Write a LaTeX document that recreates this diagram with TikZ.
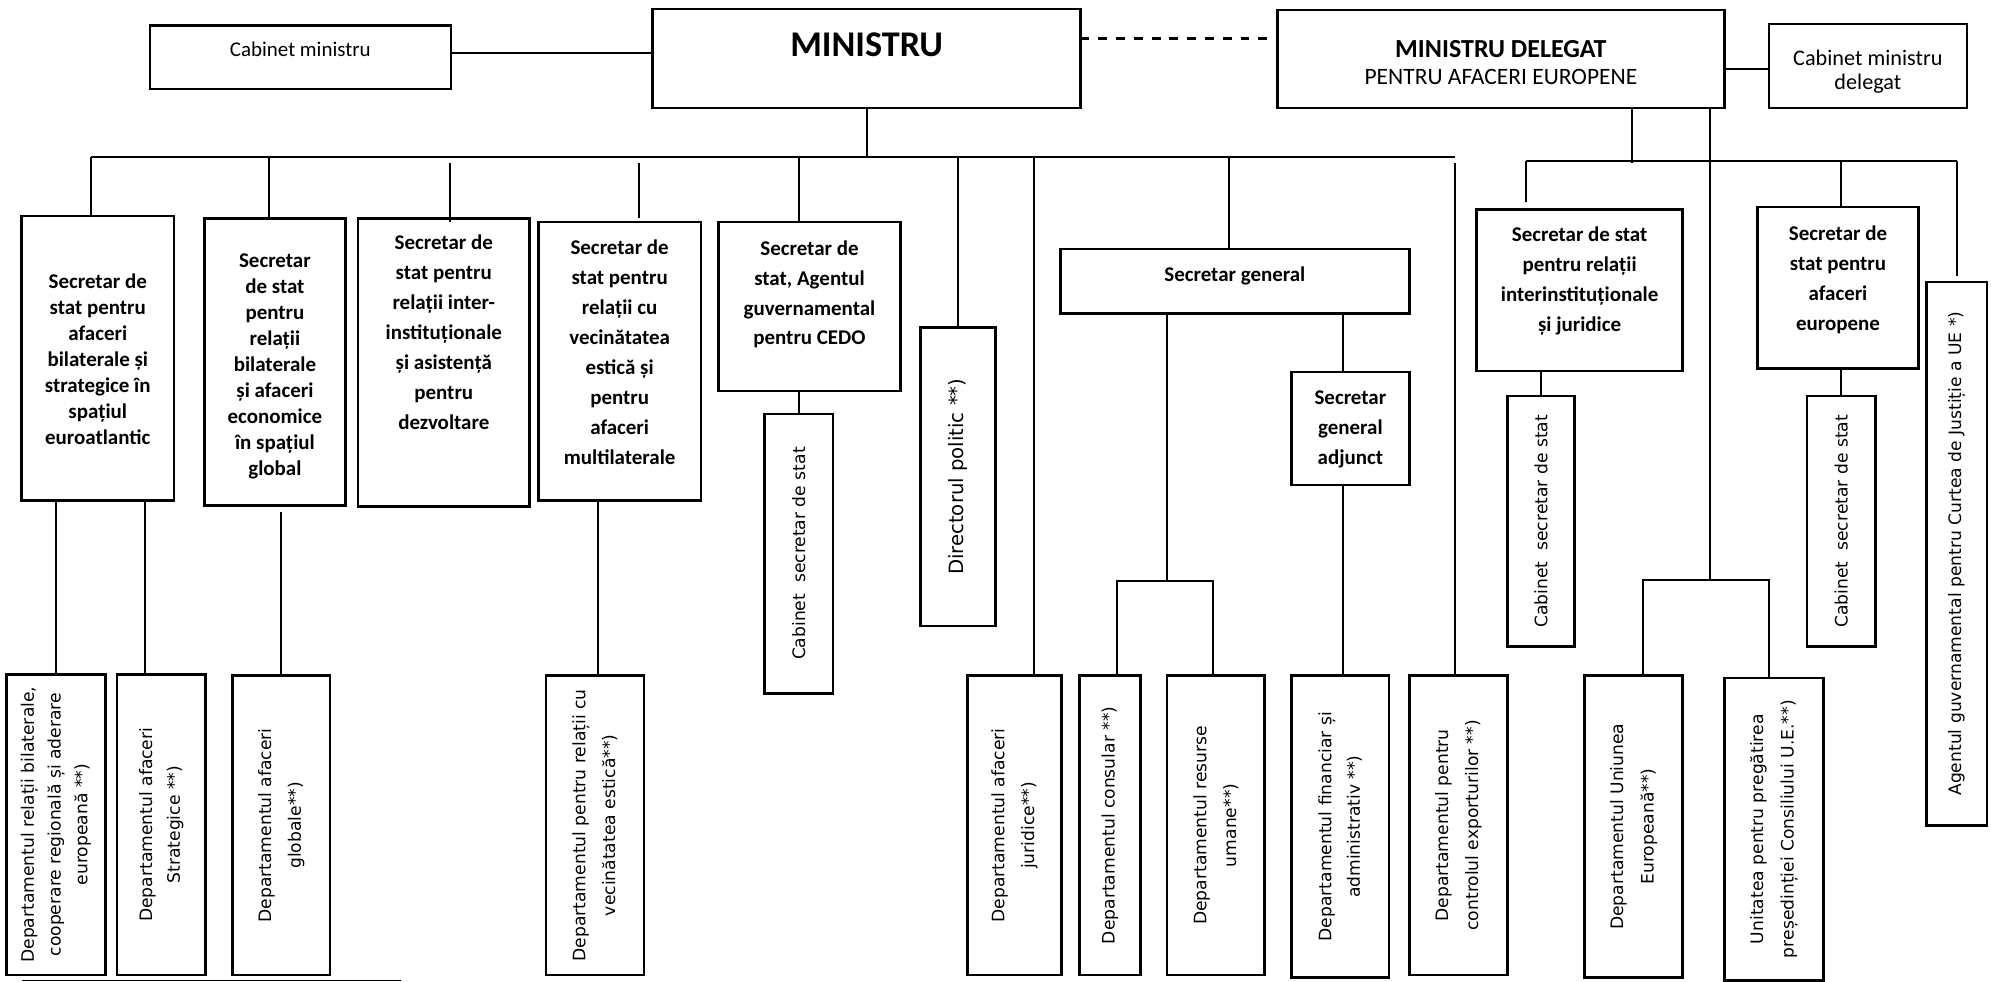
\documentclass[tikz,border=0pt]{standalone}
\usepackage{fontspec}
\usepackage{graphicx}
\setmainfont{Carlito}
\newfontfamily\dvs{DejaVu Sans}
\usetikzlibrary{calc}
% horizontal text box: width, height, first baseline from top, font, text
\newcommand{\tbx}[5]{\parbox[c][#2pt][t]{#1pt}{\vspace*{\dimexpr #3pt-20pt\relax}\centering #4\rule{0pt}{20pt}#5\par}}
% rotated text box: horizontal width, vertical height, font size, baselineskip, text
\newcommand{\rbx}[5]{\rotatebox{90}{\parbox[c][#1pt][c]{#2pt}{\centering\dvs\fontsize{#3}{#4}\selectfont #5\par}}}
\newcommand{\bfs}[1]{\fontsize{16.5}{#1}\selectfont\bfseries}
\begin{document}
\begin{tikzpicture}[x=1pt,y=-1pt,
  bx/.style={draw,line width=2pt,inner sep=0pt,outer sep=0pt,fill=white,anchor=north west},
  cn/.style={line width=1.5pt}]
\fill[white] (0,0) rectangle (1568,773);
\path[use as bounding box] (0,0) rectangle (1568,773);

% ---------- top row ----------
\node[bx] (CM) at (118,20) {\tbx{237}{50}{24.8}{\fontsize{16.5}{20}\selectfont}{Cabinet ministru}};
\node[bx] (MIN) at (514,7) {\tbx{337}{78}{37.6}{\fontsize{28.5}{30}\selectfont\bfseries}{MINISTRU}};
\node[bx] (DEL) at (1006,8) {\tbx{352}{77}{37.6}{\fontsize{18.5}{21.3}\selectfont}{{\bfseries\fontsize{20.5}{21.3}\selectfont MINISTRU DELEGAT}\\PENTRU AFACERI EUROPENE}};
\node[bx] (CMD) at (1393,19) {\tbx{156}{66}{32.6}{\fontsize{17.5}{19}\selectfont}{Cabinet ministru\\delegat}};

% ---------- secretaries ----------
\node[bx] (A) at (17,170) {\tbx{120}{224}{57.3}{\bfs{20.5}}{Secretar de\\stat pentru\\afaceri\\bilaterale și\\strategice în\\spațiul\\euroatlantic}};
\node[bx] (B) at (161,172) {\tbx{111}{226}{38.3}{\bfs{20.5}}{Secretar\\de stat\\pentru\\relații\\bilaterale\\și afaceri\\economice\\în spațiul\\global}};
\node[bx] (C) at (282,172) {\tbx{135}{227}{24.3}{\bfs{23.6}}{Secretar de\\stat pentru\\relații inter-\\instituționale\\și asistență\\pentru\\dezvoltare}};
\node[bx] (D) at (424,175) {\tbx{128}{219}{25.3}{\bfs{23.6}}{Secretar de\\stat pentru\\relații cu\\vecinătatea\\estică și\\pentru\\afaceri\\multilaterale}};
\node[bx] (E) at (566,175) {\tbx{143}{133}{26.3}{\bfs{23.4}}{Secretar de\\stat, Agentul\\guvernamental\\pentru CEDO}};
\node[bx] (SG) at (835,196) {\tbx{275}{51}{25.3}{\bfs{20}}{Secretar general}};
\node[bx] (ADJ) at (1017,293) {\tbx{93}{89}{25.3}{\bfs{23.6}}{Secretar\\general\\adjunct}};
\node[bx] (SSI) at (1163,165) {\tbx{162}{127}{25.3}{\bfs{23.6}}{Secretar de stat\\pentru relații\\interinstituționale\\și juridice}};
\node[bx] (SSA) at (1384,163) {\tbx{127}{127}{26.3}{\bfs{23.6}}{Secretar de\\stat pentru\\afaceri\\europene}};

% ---------- rotated boxes ----------
\node[bx] (CS1) at (602,326) {\rbx{54}{220}{13.5}{20}{Cabinet\ \ secretar de stat}};
\node[bx] (DP) at (725,258) {\rbx{59}{235}{15.5}{20}{Directorul politic **)}};
\node[bx] (CS2) at (1187,312) {\rbx{53}{197}{13.5}{20}{Cabinet\ \ secretar de stat}};
\node[bx] (CS3) at (1423,312) {\rbx{54}{197}{13.5}{20}{Cabinet\ \ secretar de stat}};
\node[bx] (AG) at (1517,222) {\rbx{48}{428}{13.5}{20}{Agentul guvernamental pentru Curtea de Justiție a UE *)}};

\node[bx] (D1) at (5,531) {\rbx{78}{237}{13.5}{21}{Departamentul relații bilaterale,\\cooperare regională și aderare\\europeană **)}};
\node[bx] (D2) at (92,531) {\rbx{70}{237}{13.5}{22}{Departamentul afaceri\\Strategice **)}};
\node[bx] (D3) at (183,532) {\rbx{77}{236}{13.5}{23.5}{Departamentul afaceri\\globale**)}};
\node[bx] (D4) at (430,532) {\rbx{77}{236}{13.5}{23.5}{Departamentul pentru relații cu\\vecinătatea estică**)}};
\node[bx] (D5) at (762,532) {\rbx{74}{236}{13.5}{23.5}{Departamentul afaceri\\juridice**)}};
\node[bx] (D6) at (850,532) {\rbx{48}{236}{13.5}{23.5}{Departamentul consular **)}};
\node[bx] (D7) at (919,532) {\rbx{77}{236}{13.5}{23.5}{Departamentul resurse\\umane**)}};
\node[bx] (D8) at (1017,532) {\rbx{77}{238}{13.5}{22.5}{Departamentul financiar și\\administrativ **)}};
\node[bx] (D9) at (1110,532) {\rbx{77}{236}{13.5}{23.5}{Departamentul pentru\\controlul exporturilor **)}};
\node[bx] (D10) at (1248,532) {\rbx{77}{238}{13.5}{24}{Departamentul Uniunea\\Europeană**)}};
\node[bx] (D11) at (1358,534) {\rbx{78}{238}{13.5}{24}{Unitatea pentru pregătirea\\președinției Consiliului U.E.**)}};

% ---------- top row connectors ----------
\coordinate (p1) at ([yshift=3pt]CM.east);
\draw[cn] (p1) -- (p1 -| MIN.west);
\coordinate (p2) at ([yshift=15.5pt]MIN.east);
\draw[line width=2pt,dash pattern=on 7pt off 7pt] (p2) -- (p2 -| DEL.west);
\coordinate (p3) at ([yshift=-2pt]CMD.west);
\draw[cn] (p3 -| DEL.east) -- (p3);

% ---------- minister bus ----------
\coordinate (bL) at (72,124);
\coordinate (bG) at (72,128);
\coordinate (pD9) at ([xshift=-2.5pt]D9.north);
\draw[cn] (MIN.south) -- (MIN.south |- bL);
\draw[cn] (bL) -- (pD9 |- bL);
\draw[cn] (bL) -- (bL |- A.north);
\coordinate (pB) at ([xshift=-4.5pt]B.north);
\draw[cn] (pB |- bL) -- (pB);
\coordinate (pC) at ([xshift=5pt,yshift=-3pt]C.north);
\draw[cn] (pC |- bG) -- (pC);
\coordinate (pD) at ([xshift=15pt,yshift=3pt]D.north);
\draw[cn] (pD |- bG) -- (pD);
\draw[cn] (CS1.north |- bL) -- (CS1.north |- E.north);
\draw[cn] (DP.north |- bL) -- (DP.north);
\coordinate (pD5) at ([xshift=15pt]D5.north);
\draw[cn] (pD5 |- bL) -- (pD5);
\coordinate (pSG) at ([xshift=-4.5pt]SG.north);
\draw[cn] (pSG |- bL) -- (pSG);
\draw[cn] (pD9 |- bG) -- (pD9);

% ---------- under secretaries ----------
\draw[cn] (CS1.north |- E.south) -- (CS1.north);
\draw[cn] (D1.north |- A.south) -- (D1.north);
\coordinate (pD2) at ([xshift=-13pt]D2.north);
\draw[cn] (pD2 |- A.south) -- (pD2);
\coordinate (pB3) at ([yshift=-5pt]B.south);
\draw[cn] (D3.north |- pB3) -- (D3.north);
\coordinate (pD4) at ([xshift=2.5pt]D4.north);
\draw[cn] (pD4 |- D.south) -- (pD4);

% ---------- secretar general ----------
\coordinate (sgy) at (0,457.5);
\coordinate (pSGd) at ([xshift=-53.5pt]SG.south);
\draw[cn] (pSGd) -- (pSGd |- sgy);
\coordinate (pD6) at ([xshift=6pt]D6.north);
\coordinate (pD7) at ([xshift=-2.5pt]D7.north);
\draw[cn] (pD6) -- (pD6 |- sgy) -- (pD7 |- sgy) -- (pD7);
\coordinate (pADJ) at ([xshift=-5.5pt]ADJ.north);
\draw[cn] (pADJ |- SG.south) -- (pADJ);
\coordinate (pADJs) at ([xshift=-5.5pt]ADJ.south);
\draw[cn] (pADJs) -- (pADJs |- D8.north);

% ---------- ministru delegat ----------
\coordinate (dy) at (0,126.5);
\coordinate (dyl) at (0,128.5);
\coordinate (pDel) at ([xshift=103.5pt]DEL.south);
\draw[cn] (pDel) -- (pDel |- dyl);
\coordinate (pSSI) at ([xshift=-42pt]SSI.north);
\draw[cn] (pSSI |- dy) -- (AG.north |- dy);
\draw[cn] (pSSI |- dy) -- ([yshift=6pt]pSSI);
\draw[cn] (CS3.north |- dy) -- (CS3.north |- SSA.north);
\draw[cn] (AG.north |- dy) -- ([yshift=5pt]AG.north);
\draw[cn] (CS2.north |- SSI.south) -- (CS2.north);
\draw[cn] (CS3.north |- SSA.south) -- (CS3.north);
\coordinate (uy) at (0,457);
\coordinate (pDel2) at ([xshift=164.5pt]DEL.south);
\draw[cn] (pDel2) -- (pDel2 |- uy);
\coordinate (pD10) at ([xshift=7.5pt]D10.north);
\coordinate (pD11) at ([xshift=-4pt]D11.north);
\draw[cn] (pD10) -- (pD10 |- uy) -- (pD11 |- uy) -- (pD11);

% ---------- footnote rule ----------
\coordinate (fnA) at (17,772);
\coordinate (fnB) at (316,772);
\draw[line width=1pt] (fnA) -- (fnB);
\end{tikzpicture}
\end{document}
